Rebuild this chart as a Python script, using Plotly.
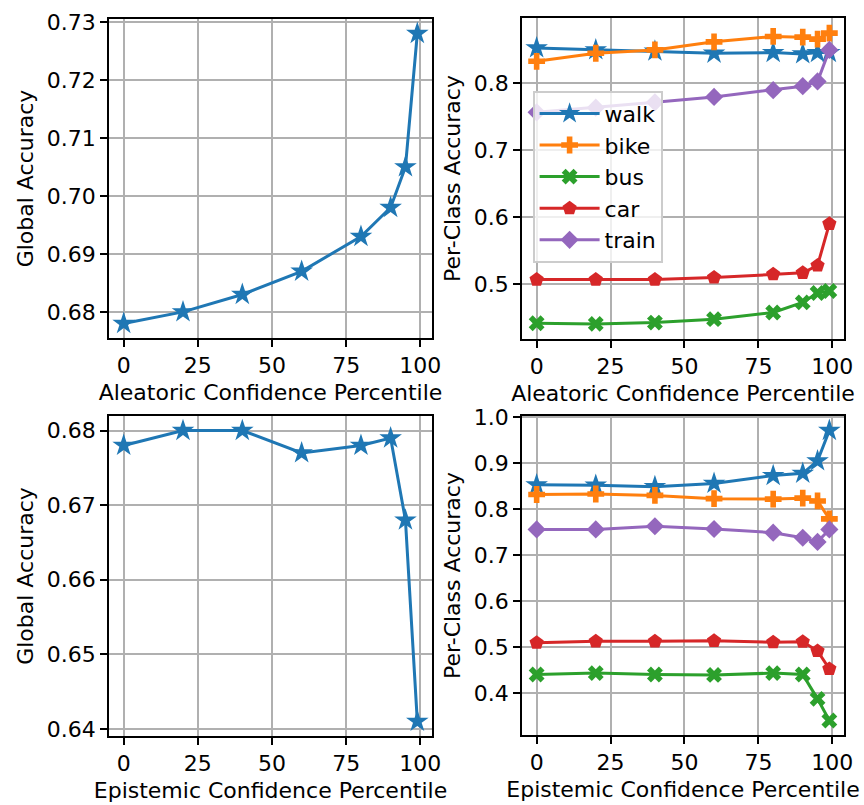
import plotly.graph_objects as go

# ---- data ----
percentiles = [0, 20, 40, 60, 80, 90, 95, 99]

global_acc_aleatoric = [0.678, 0.680, 0.683, 0.687, 0.693, 0.698, 0.705, 0.728]
global_acc_epistemic = [0.678, 0.680, 0.680, 0.677, 0.678, 0.679, 0.668, 0.641]

classes = ["walk", "bike", "bus", "car", "train"]

per_class_aleatoric = {
    "walk":  [0.852, 0.849, 0.847, 0.844, 0.845, 0.843, 0.845, 0.845],
    "bike":  [0.832, 0.844, 0.849, 0.861, 0.869, 0.868, 0.865, 0.874],
    "bus":   [0.442, 0.441, 0.443, 0.448, 0.458, 0.473, 0.487, 0.490],
    "car":   [0.507, 0.507, 0.507, 0.510, 0.515, 0.517, 0.528, 0.590],
    "train": [0.756, 0.763, 0.771, 0.779, 0.789, 0.795, 0.802, 0.849],
}
per_class_epistemic = {
    "walk":  [0.853, 0.852, 0.849, 0.856, 0.873, 0.878, 0.905, 0.971],
    "bike":  [0.832, 0.833, 0.830, 0.823, 0.822, 0.824, 0.818, 0.779],
    "bus":   [0.441, 0.444, 0.441, 0.440, 0.444, 0.441, 0.388, 0.341],
    "car":   [0.510, 0.513, 0.513, 0.514, 0.511, 0.512, 0.492, 0.453],
    "train": [0.756, 0.756, 0.763, 0.757, 0.749, 0.738, 0.729, 0.756],
}

x_ticks = [0, 25, 50, 75, 100]

# ---- styles ----
colors = {"walk": "#1f77b4", "bike": "#ff7f0e", "bus": "#2ca02c",
          "car": "#d62728", "train": "#9467bd"}
symbols = {"walk": "star", "bike": "cross", "bus": "x",
           "car": "pentagon", "train": "diamond"}
sizes = {"walk": 17, "bike": 14, "bus": 14, "car": 15, "train": 14}

FONT = "DejaVu Sans"
FS = 22
fig = go.Figure()

W, H = 864, 805
def xd(a, b):
    return [a / W, b / W]
def yd(top, bottom):
    return [1 - bottom / H, 1 - top / H]

# top-left
fig.add_trace(go.Scatter(x=percentiles, y=global_acc_aleatoric, mode="lines+markers",
                         line=dict(color=colors["walk"], width=3),
                         marker=dict(symbol="star", size=17, color=colors["walk"]),
                         showlegend=False, xaxis="x", yaxis="y"))
# bottom-left
fig.add_trace(go.Scatter(x=percentiles, y=global_acc_epistemic, mode="lines+markers",
                         line=dict(color=colors["walk"], width=3),
                         marker=dict(symbol="star", size=17, color=colors["walk"]),
                         showlegend=False, xaxis="x3", yaxis="y3"))

for c in classes:
    fig.add_trace(go.Scatter(x=percentiles, y=per_class_aleatoric[c], mode="lines+markers",
                             name=c, line=dict(color=colors[c], width=3),
                             marker=dict(symbol=symbols[c], size=sizes[c], color=colors[c],
                                         line=dict(width=0)),
                             showlegend=True, xaxis="x2", yaxis="y2"))
for c in classes:
    fig.add_trace(go.Scatter(x=percentiles, y=per_class_epistemic[c], mode="lines+markers",
                             name=c, line=dict(color=colors[c], width=3),
                             marker=dict(symbol=symbols[c], size=sizes[c], color=colors[c],
                                         line=dict(width=0)),
                             showlegend=False, xaxis="x4", yaxis="y4"))

def xaxis(dom, anchor, title):
    return dict(domain=dom, anchor=anchor, range=[-4.95, 103.95], tickvals=x_ticks,
                showgrid=True, gridcolor="#b0b0b0", gridwidth=1.6,
                showline=True, linecolor="black", linewidth=1.6, mirror=True,
                ticks="outside", ticklen=7, tickwidth=1.6, tickcolor="black",
                tickfont=dict(family=FONT, size=FS, color="black"),
                title=dict(text=title, font=dict(family=FONT, size=FS, color="black"), standoff=7),
                zeroline=False, automargin=False)

def yaxis(dom, anchor, rng, dtick, fmt, title):
    return dict(domain=dom, anchor=anchor, range=rng, dtick=dtick, tickformat=fmt,
                showgrid=True, gridcolor="#b0b0b0", gridwidth=1.6,
                showline=True, linecolor="black", linewidth=1.6, mirror=True,
                ticks="outside", ticklen=7, tickwidth=1.6, tickcolor="black",
                tickfont=dict(family=FONT, size=FS, color="black"),
                title=dict(text=title, font=dict(family=FONT, size=FS, color="black"), standoff=7),
                zeroline=False, automargin=False)

fig.update_layout(
    width=W, height=H,
    margin=dict(l=0, r=0, t=0, b=0),
    paper_bgcolor="white", plot_bgcolor="white",
    font=dict(family=FONT, size=FS, color="black"),
    xaxis=xaxis(xd(109, 432), "y", "Aleatoric Confidence Percentile"),
    yaxis=yaxis(yd(19, 338), "x", [0.6755, 0.7305], 0.01, ".2f", "Global Accuracy"),
    xaxis2=xaxis(xd(522, 844), "y2", "Aleatoric Confidence Percentile"),
    yaxis2=yaxis(yd(18, 339), "x2", [0.4185, 0.8965], 0.1, ".1f", "Per-Class Accuracy"),
    xaxis3=xaxis(xd(109, 432), "y3", "Epistemic Confidence Percentile"),
    yaxis3=yaxis(yd(416, 736), "x3", [0.63905, 0.68195], 0.01, ".2f", "Global Accuracy"),
    xaxis4=xaxis(xd(522, 844), "y4", "Epistemic Confidence Percentile"),
    yaxis4=yaxis(yd(416, 735), "x4", [0.3095, 1.0025], 0.1, ".1f", "Per-Class Accuracy"),
    legend=dict(x=533 / W, y=1 - 91 / H, xanchor="left", yanchor="top",
                bgcolor="rgba(255,255,255,0.8)", bordercolor="#cccccc", borderwidth=1.6,
                font=dict(family=FONT, size=FS, color="black"), itemwidth=60,
                tracegroupgap=0),
    showlegend=True,
)

fig.write_html("out.html",
               config={"displayModeBar": False},
               post_script="document.body.style.margin='0';document.body.style.overflow='hidden';")
